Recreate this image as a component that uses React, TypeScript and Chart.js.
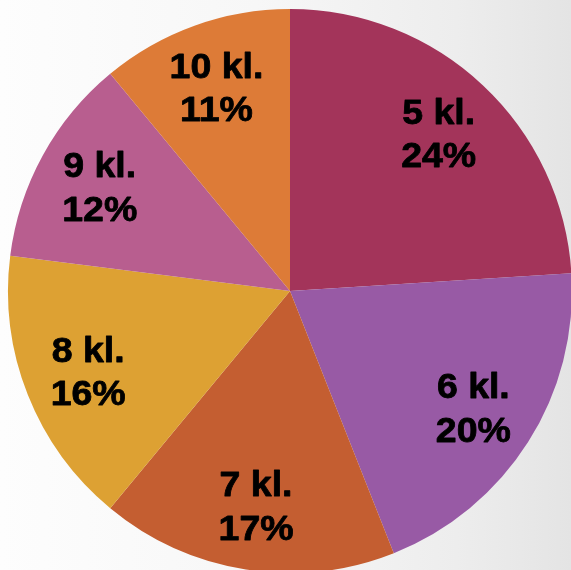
import React, { useEffect, useRef } from "react";
import { Chart, registerables } from "chart.js";

Chart.register(...registerables);

const categories = ["5 kl.", "6 kl.", "7 kl.", "8 kl.", "9 kl.", "10 kl."];
const shares = [24, 20, 17, 16, 12, 11];
const sliceColors = ["#A3345A", "#985AA5", "#C45E31", "#DDA133", "#B85E8F", "#DD7B37"];

const labelPlugin = {
  id: "sliceLabels",
  afterDatasetsDraw(chart: any) {
    const ctx = chart.ctx;
    const meta = chart.getDatasetMeta(0);
    ctx.save();
    ctx.font = 'bold 35px "Liberation Sans", Arial, sans-serif';
    ctx.fillStyle = "#000000";
    ctx.strokeStyle = "#000000";
    ctx.lineWidth = 0.8;
    ctx.lineJoin = "round";
    ctx.textAlign = "center";
    ctx.textBaseline = "alphabetic";
    meta.data.forEach((arc: any, i: number) => {
      const p = arc.getProps(["x", "y", "startAngle", "endAngle", "outerRadius"], true);
      const mid = (p.startAngle + p.endAngle) / 2;
      const r = p.outerRadius * 0.77;
      const px = p.x + Math.cos(mid) * r;
      const py = p.y + Math.sin(mid) * r;
      ctx.save();
      ctx.translate(px, py);
      ctx.scale(1.07, 1);
      ctx.fillText(categories[i], 0, -9);
      ctx.strokeText(categories[i], 0, -9);
      ctx.fillText(shares[i] + "%", 0, 34.5);
      ctx.strokeText(shares[i] + "%", 0, 34.5);
      ctx.restore();
    });
    ctx.restore();
  },
};

export default function App() {
  const canvasRef = useRef<HTMLCanvasElement | null>(null);

  useEffect(() => {
    if (!canvasRef.current) return;
    const chart = new Chart(canvasRef.current, {
      type: "pie",
      data: {
        labels: categories,
        datasets: [
          {
            data: shares,
            backgroundColor: sliceColors,
            borderWidth: 0,
          },
        ],
      },
      options: {
        responsive: false,
        animation: false,
        layout: { padding: { left: 8, right: 8, top: 8, bottom: 8 } },
        plugins: {
          legend: { display: false },
          tooltip: { enabled: false },
        },
      },
      plugins: [labelPlugin],
    });
    return () => chart.destroy();
  }, []);

  return (
    <div
      style={{
        position: "fixed",
        left: 0,
        top: 0,
        width: 571,
        height: 570,
        overflow: "hidden",
        background:
          "linear-gradient(to right, #fdfdfd 0%, #f7f7f7 45%, #ededed 80%, #e4e4e4 100%)",
      }}
    >
      <canvas
        ref={canvasRef}
        width={580}
        height={582}
        style={{ position: "absolute", left: 0, top: 0, width: 580, height: 582 }}
      />
    </div>
  );
}
